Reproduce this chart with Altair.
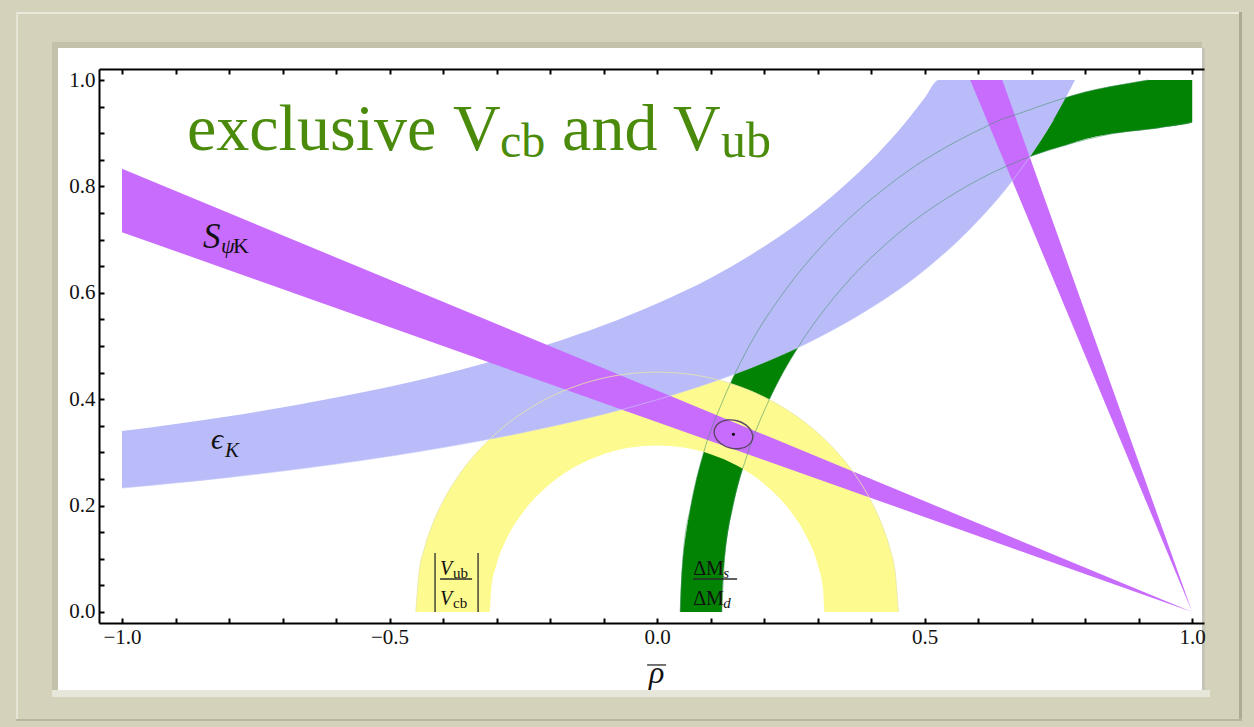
import altair as alt
import pandas as pd

# ---------------- plot geometry ----------------
W, H = 1105, 554
RHO_DOMAIN = [-1.043, 1.022]
ETA_DOMAIN = [-0.0207, 1.0207]
SERIF = "Liberation Serif"

GREEN = "#038303"
YELLOW = "#fdfa8f"
BLUE = "#b9bcf9"
PURPLE = "#c86cfe"
TITLE_GREEN = "#4b8b0b"
FRAME = "#d5d2bb"

# ---------------- constraint bands (rho-bar, eta-bar) ----------------
# S_psiK, main solution: wedge from the apex (1, 0)
psik_rho = [-1.0, 1.0]
psik_lo = [0.714, 0.0]
psik_hi = [0.833, 0.0]

# S_psiK, second solution: steep wedge, tabulated against eta
psik2_eta = [0.0, 1.0]
psik2_left = [1.0, 0.585]
psik2_right = [1.0, 0.645]

# epsilon_K band
eps_rho = [-1.0, -0.8, -0.6, -0.4, -0.2, 0.0, 0.1, 0.2, 0.3, 0.4, 0.45, 0.5, 0.526,
           0.55, 0.6, 0.65, 0.7, 0.74, 0.781]
eps_lo = [0.233, 0.253, 0.278, 0.309, 0.348, 0.399, 0.431, 0.469, 0.515, 0.572, 0.605,
          0.643, 0.665, 0.686, 0.736, 0.793, 0.861, 0.924, 1.0]
eps_hi = [0.340, 0.368, 0.403, 0.447, 0.504, 0.580, 0.628, 0.687, 0.759, 0.849, 0.903,
          0.966, 1.0, 1.0, 1.0, 1.0, 1.0, 1.0, 1.0]

# |Vub/Vcb| half annulus
vub_rho = [-0.451, -0.445, -0.435, -0.42, -0.40, -0.37, -0.34, -0.313, -0.31, -0.30,
           -0.28, -0.25, -0.20, -0.15, -0.10, -0.05, 0.0, 0.05, 0.10, 0.15, 0.20, 0.25,
           0.28, 0.30, 0.31, 0.313, 0.34, 0.37, 0.40, 0.42, 0.435, 0.445, 0.451]
vub_lo = [0.0, 0.0, 0.0, 0.0, 0.0, 0.0, 0.0, 0.0, 0.0432, 0.0893, 0.1399, 0.1883, 0.2408,
          0.2747, 0.2966, 0.3090, 0.313, 0.3090, 0.2966, 0.2747, 0.2408, 0.1883, 0.1399,
          0.0893, 0.0432, 0.0, 0.0, 0.0, 0.0, 0.0, 0.0, 0.0, 0.0]
vub_hi = [0.0, 0.0733, 0.1191, 0.1643, 0.2083, 0.2579, 0.2963, 0.3247, 0.3276, 0.3368,
          0.3536, 0.3754, 0.4042, 0.4253, 0.4398, 0.4482, 0.451, 0.4482, 0.4398, 0.4253,
          0.4042, 0.3754, 0.3536, 0.3368, 0.3276, 0.3247, 0.2963, 0.2579, 0.2083, 0.1643,
          0.1191, 0.0733, 0.0]

# DeltaMs/DeltaMd band, tabulated against eta
dm_eta = [0.0, 0.1, 0.2, 0.3, 0.4, 0.5, 0.6, 0.7, 0.8, 0.85, 0.875, 0.9, 0.91, 0.921,
          0.94, 0.96, 0.98, 0.99, 1.0]
dm_outer = [0.043, 0.048, 0.063, 0.087, 0.124, 0.172, 0.236, 0.319, 0.430, 0.500, 0.542,
            0.589, 0.610, 0.632, 0.685, 0.742, 0.810, 0.860, 0.918]
dm_inner = [0.121, 0.126, 0.142, 0.170, 0.210, 0.265, 0.338, 0.437, 0.578, 0.681, 0.755,
            0.856, 0.938, 1.0, 1.0, 1.0, 1.0, 1.0, 1.0]

# fit contour and best-fit point
fit_rho = [0.1782, 0.1768, 0.1663, 0.1494, 0.1307, 0.1152, 0.1071, 0.1084, 0.1189,
           0.1358, 0.1545, 0.1700]
fit_eta = [0.3245, 0.3385, 0.3513, 0.3595, 0.3608, 0.3550, 0.3435, 0.3295, 0.3167,
           0.3085, 0.3072, 0.3130]
best_rho = [0.1426]
best_eta = [0.334]

# ---------------- axes ----------------
x_label_vals = [-1.0, -0.5, 0.0, 0.5, 1.0]
x_tick_vals = [-1.0, -0.9, -0.8, -0.7, -0.6, -0.5, -0.4, -0.3, -0.2, -0.1, 0.0,
               0.1, 0.2, 0.3, 0.4, 0.5, 0.6, 0.7, 0.8, 0.9, 1.0]
y_label_vals = [0.0, 0.2, 0.4, 0.6, 0.8, 1.0]
y_tick_vals = [0.0, 0.05, 0.1, 0.15, 0.2, 0.25, 0.3, 0.35, 0.4, 0.45, 0.5, 0.55, 0.6,
               0.65, 0.7, 0.75, 0.8, 0.85, 0.9, 0.95, 1.0]

# ---------------- annotations ----------------
title_text = ["exclusive", "V", "cb", "and", "V", "ub"]
title_rho = [-0.8785, -0.3814, -0.2935, -0.1776, 0.0299, 0.1196]
title_eta = [0.8684, 0.8684, 0.8553, 0.8684, 0.8684, 0.8553]
title_size = [66, 66, 48, 66, 66, 50]

# italic glyphs (the last one is the rho-bar axis title)
italic_text = ["S", "\u03c8", "\u03f5", "K", "V", "V", "s", "d", "\u03c1"]
italic_rho = [-0.8486, -0.815, -0.8336, -0.8075, -0.4056, -0.4056, 0.1234, 0.1234, -0.0150]
italic_eta = [0.6842, 0.6748, 0.3064, 0.2914, 0.0695, 0.0132, 0.0639, 0.0075, -0.1335]
italic_size = [35, 22, 30, 21, 20, 20, 15, 15, 32]

roman_text = ["K", "ub", "cb", "\u0394M", "\u0394M"]
roman_rho = [-0.7925, -0.3813, -0.3813, 0.0673, 0.0673]
roman_eta = [0.6748, 0.0639, 0.0075, 0.0695, 0.0132]
roman_size = [22, 15, 15, 20, 20]

# fraction bars, absolute-value bars and the bar over rho
bar_x1 = [-0.4056, -0.415, -0.3346, 0.0673, -0.0187]
bar_x2 = [-0.3458, -0.415, -0.3346, 0.1495, 0.0168]
bar_y1 = [0.062, 0.0, 0.0, 0.062, -0.0996]
bar_y2 = [0.062, 0.111, 0.111, 0.062, -0.0996]

xs = alt.Scale(domain=RHO_DOMAIN, nice=False, zero=False)
ys = alt.Scale(domain=ETA_DOMAIN, nice=False, zero=False)


def X(field):
    return alt.X(field, type="quantitative", scale=xs, axis=None)


def Y(field):
    return alt.Y(field, type="quantitative", scale=ys, axis=None)


one = pd.DataFrame({"k": [0]})


def deco(fill, x, x2, y, y2, opacity=1.0):
    # flat decorative rectangle, placed in pixels relative to the plot area
    return alt.Chart(one).mark_rect(fill=fill, opacity=opacity).encode(
        x=alt.value(x), x2=alt.value(x2), y=alt.value(y), y2=alt.value(y2))


# ---------------- frame decoration ----------------
frame_parts = [
    deco("#ebe9db", -82, W + 38, -57, -55),      # top highlight of the moulding
    deco("#e6e4d4", -83, -81, -57, H + 97),      # left highlight
    deco("#aeab92", W + 35, W + 38, -57, H + 97),  # right shadow line
    deco("#b9b69f", -83, W + 38, H + 96, H + 98),  # bottom shadow line
    deco("#c4c1aa", -47, W - 2, -27, H + 67),    # inset shadow above/left of panel
    deco("white", -41, W - 2, -21, H + 67),      # white panel
    deco("#c6c4b6", W - 2, W + 1, -21, H + 67),  # right edge of panel
    deco("#e7e6da", -47, W + 6, H + 67, H + 74),  # light ledge under panel
]

# ---------------- bands ----------------
green_df = pd.DataFrame({"eta": dm_eta, "outer": dm_outer, "inner": dm_inner})
green = alt.Chart(green_df).mark_area(
    orient="horizontal", interpolate="monotone", color=GREEN).encode(
    y=Y("eta"), x=X("outer"), x2="inner:Q")

vub_df = pd.DataFrame({"rho": vub_rho, "lo": vub_lo, "hi": vub_hi})
yellow = alt.Chart(vub_df).mark_area(interpolate="monotone", color=YELLOW).encode(
    x=X("rho"), y=Y("lo"), y2="hi:Q")

eps_df = pd.DataFrame({"rho": eps_rho, "lo": eps_lo, "hi": eps_hi})
blue = alt.Chart(eps_df).mark_area(interpolate="monotone", color=BLUE).encode(
    x=X("rho"), y=Y("lo"), y2="hi:Q")

psik_df = pd.DataFrame({"rho": psik_rho, "lo": psik_lo, "hi": psik_hi})
purple = alt.Chart(psik_df).mark_area(color=PURPLE).encode(
    x=X("rho"), y=Y("lo"), y2="hi:Q")

psik2_df = pd.DataFrame({"eta": psik2_eta, "left": psik2_left, "right": psik2_right})
purple2 = alt.Chart(psik2_df).mark_area(orient="horizontal", color=PURPLE).encode(
    y=Y("eta"), x=X("left"), x2="right:Q")

# band outlines that stay visible through the overlapping fills
green_outer_line = alt.Chart(green_df).mark_line(
    interpolate="monotone", color="#3f8f62", strokeWidth=1, opacity=0.55).encode(
    x=X("outer"), y=Y("eta"), order="eta:Q")
green_inner_line = alt.Chart(green_df[green_df["eta"] <= 0.921]).mark_line(
    interpolate="monotone", color="#3f8f62", strokeWidth=1, opacity=0.55).encode(
    x=X("inner"), y=Y("eta"), order="eta:Q")
yellow_line = alt.Chart(vub_df).mark_line(
    interpolate="monotone", color="#e9e6a8", strokeWidth=1, opacity=0.8).encode(
    x=X("rho"), y=Y("hi"))
blue_line = alt.Chart(eps_df[eps_df["lo"] < 1.0]).mark_line(
    interpolate="monotone", color="#c9cbf7", strokeWidth=1, opacity=0.6).encode(
    x=X("rho"), y=Y("lo"))

fit_df = pd.DataFrame({"rho": fit_rho, "eta": fit_eta, "i": list(range(len(fit_rho)))})
fit = alt.Chart(fit_df).mark_line(
    interpolate="cardinal-closed", color="#5d4668", strokeWidth=1.4).encode(
    x=X("rho"), y=Y("eta"), order="i:Q")
best = alt.Chart(pd.DataFrame({"rho": best_rho, "eta": best_eta})).mark_point(
    filled=True, color="black", size=9, opacity=1).encode(x=X("rho"), y=Y("eta"))


# ---------------- text ----------------
def text_layer(text, rho, eta, size, style, color):
    df = pd.DataFrame({"text": text, "rho": rho, "eta": eta, "size": size})
    return alt.Chart(df).mark_text(
        align="left", baseline="alphabetic", font=SERIF, fontStyle=style, color=color
    ).encode(x=X("rho"), y=Y("eta"), text="text:N",
             size=alt.Size("size:Q", scale=None, legend=None))


title = text_layer(title_text, title_rho, title_eta, title_size, "normal", TITLE_GREEN)
italic = text_layer(italic_text, italic_rho, italic_eta, italic_size, "italic", "#111111")
roman = text_layer(roman_text, roman_rho, roman_eta, roman_size, "normal", "#111111")

bars_df = pd.DataFrame({"x1": bar_x1, "x2": bar_x2, "y1": bar_y1, "y2": bar_y2})
bars = alt.Chart(bars_df).mark_rule(color="#2a2a2a", strokeWidth=1.3).encode(
    x=X("x1"), x2="x2:Q", y=Y("y1"), y2="y2:Q")

# ---------------- axes (frame with inward ticks) ----------------
anchor = pd.DataFrame({"rho": [0.0], "eta": [0.0]})
tick_style = dict(tickColor="black", tickWidth=2, tickSize=5, grid=False, zindex=1)

axis_main = alt.Chart(anchor).mark_point(opacity=0).encode(
    x=alt.X("rho:Q", scale=xs, axis=alt.Axis(
        orient="bottom", values=x_label_vals, format=".1f", ticks=False, tickSize=0,
        domain=True, domainColor="black", domainWidth=2, grid=False,
        labelFont=SERIF, labelFontSize=21, labelColor="#111111", labelPadding=3,
        labelFlush=False, labelOverlap=False, title=None, zindex=1)),
    y=alt.Y("eta:Q", scale=ys, axis=alt.Axis(
        orient="left", values=y_label_vals, format=".1f", ticks=False, tickSize=0,
        domain=True, domainColor="black", domainWidth=2, grid=False,
        labelFont=SERIF, labelFontSize=21, labelColor="#111111", labelPadding=4,
        labelFlush=False, labelOverlap=False, title=None, zindex=1)),
)

axis_inner_ticks = alt.Chart(anchor).mark_point(opacity=0).encode(
    x=alt.X("rho:Q", scale=xs, axis=alt.Axis(
        orient="top", offset=-H, values=x_tick_vals, labels=False, domain=False,
        title=None, **tick_style)),
    y=alt.Y("eta:Q", scale=ys, axis=alt.Axis(
        orient="right", offset=-W, values=y_tick_vals, labels=False, domain=False,
        title=None, **tick_style)),
)

axis_top = alt.Chart(anchor).mark_point(opacity=0).encode(
    x=alt.X("rho:Q", scale=xs, axis=alt.Axis(
        orient="bottom", offset=-H, values=x_tick_vals, labels=False, domain=True,
        domainColor="black", domainWidth=2, title=None, **tick_style)),
    y=alt.Y("eta:Q", scale=ys, axis=None),
)

chart = alt.layer(
    *frame_parts,
    green, yellow, blue, purple, purple2,
    green_outer_line, green_inner_line, yellow_line, blue_line,
    fit, best, bars, title, italic, roman,
    axis_main, axis_inner_ticks, axis_top,
).resolve_axis(x="independent", y="independent").properties(
    width=W, height=H,
    padding={"left": 99, "top": 69, "right": 50, "bottom": 104},
    autosize=alt.AutoSizeParams(type="none"),
    background=FRAME,
).configure_view(stroke=None)

chart.save("out.html", embed_options={"renderer": "svg", "actions": False})
